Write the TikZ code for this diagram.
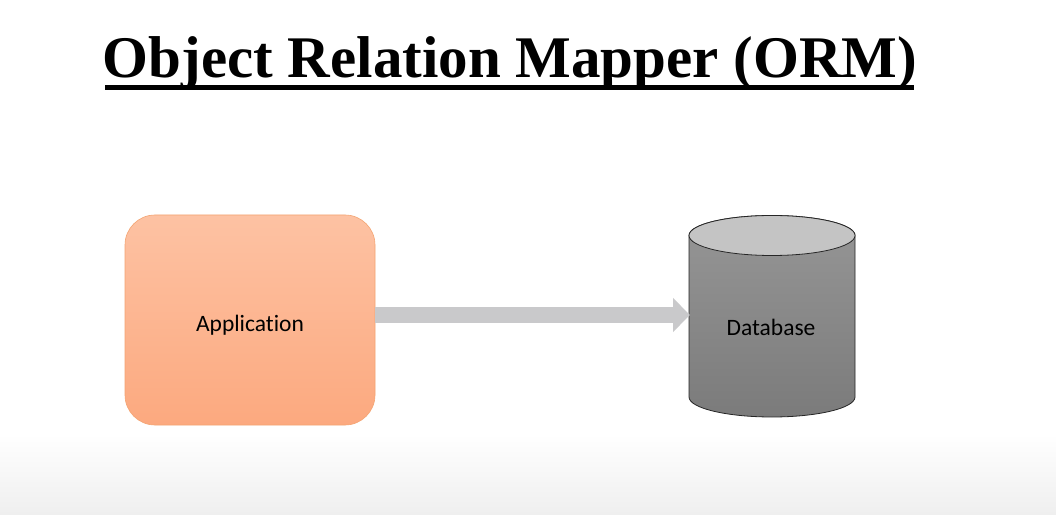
\documentclass[tikz,border=0pt]{standalone}
\usepackage{fontspec}
\setmainfont{Liberation Serif}
\newfontfamily\calib[Ligatures=NoCommon]{Carlito}
\usetikzlibrary{arrows.meta}
\definecolor{appTop}{HTML}{FDC2A3}
\definecolor{appBot}{HTML}{FCA97F}
\definecolor{appEdge}{HTML}{F4A472}
\definecolor{arrowGray}{HTML}{C9C9CB}
\definecolor{dbTop}{HTML}{C4C4C4}
\definecolor{dbBodyTop}{HTML}{969696}
\definecolor{dbBodyBot}{HTML}{7B7B7B}
\definecolor{bgBot}{HTML}{EFEFEF}
\tikzset{
  titletext/.style={font=\fontsize{59}{70}\selectfont\bfseries, inner sep=0pt, anchor=base},
  appbox/.style={rounded corners=30pt, draw=appEdge, line width=0.6pt, top color=appTop, bottom color=appBot,
                 minimum width=250pt, minimum height=210pt, inner sep=0pt, font=\calib\fontsize{23.5}{28}\selectfont},
  dblabel/.style={font=\calib\fontsize{23.5}{28}\selectfont, inner sep=0pt},
  flowarrow/.style={draw=arrowGray, line width=16pt, -{Triangle[length=17pt,width=33pt]}},
}
\begin{document}
\begin{tikzpicture}[x=1pt,y=1pt]
  % background
  \fill[white] (0,0) rectangle (1056,514);
  \shade[top color=white, bottom color=bgBot] (0,0) rectangle (1056,80);
  \useasboundingbox (0,0) rectangle (1056,514);
  % title
  \node[titletext] (title) at (510,436) {Object Relation Mapper (ORM)};
  \draw[line width=4.5pt] (105,426.5) -- (914,426.5);
  % application
  \node[appbox] (app) at (250,194) {\raisebox{-3pt}[\height][0pt]{Application}};
  % database cylinder
  \shade[top color=dbBodyTop, bottom color=dbBodyBot, draw=black!85, line width=0.8pt]
    (689,278.5) -- (689,117) arc[start angle=180, end angle=360, x radius=83pt, y radius=20pt]
    -- (855,278.5) arc[start angle=0, end angle=180, x radius=83pt, y radius=20pt] -- cycle;
  \fill[dbTop, draw=black!85, line width=0.8pt] (772,278.5) ellipse[x radius=83pt, y radius=20pt];
  \node[dblabel] (db) at (771,187) {Database};
  \coordinate (dbL) at (690,199);
  % connector
  \draw[flowarrow] (app.east |- dbL) -- (dbL);
\end{tikzpicture}
\end{document}
